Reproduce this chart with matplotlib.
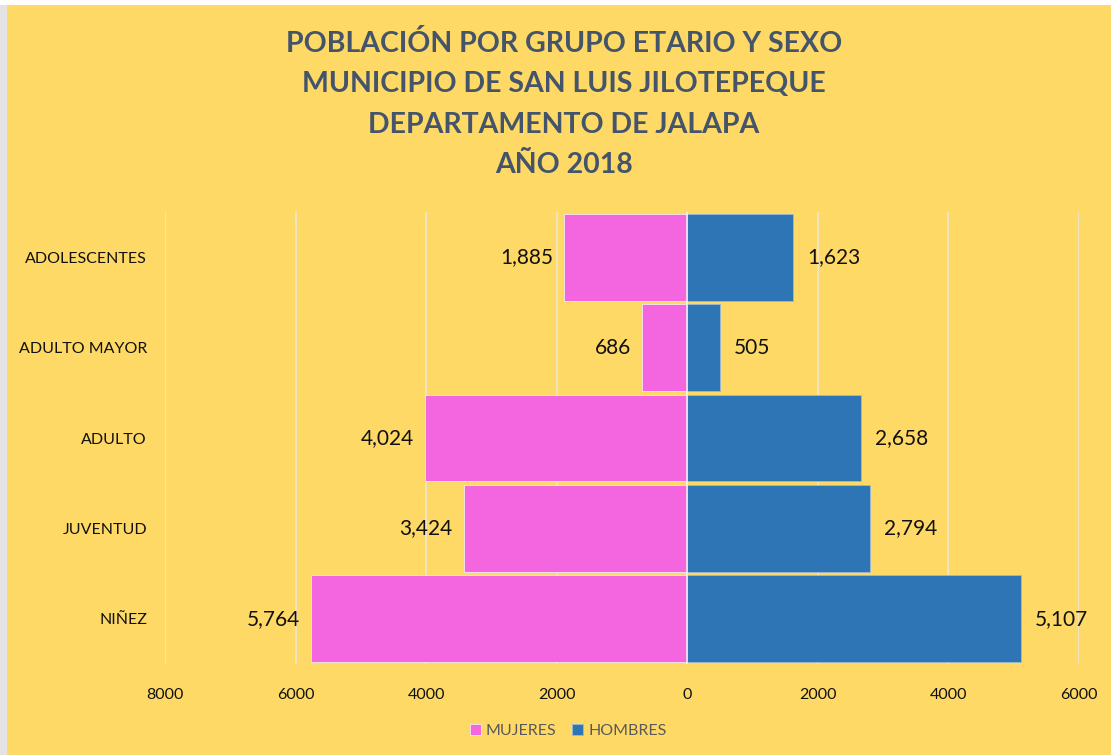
import matplotlib
matplotlib.use("Agg")
import matplotlib.pyplot as plt
from matplotlib.patches import Rectangle

categories = ["ADOLESCENTES", "ADULTO MAYOR", "ADULTO", "JUVENTUD", "NIÑEZ"]
mujeres = [1885, 686, 4024, 3424, 5764]
hombres = [1623, 505, 2658, 2794, 5107]
xticks = [-8000, -6000, -4000, -2000, 0, 2000, 4000, 6000]
xtick_labels = ["8000", "6000", "4000", "2000", "0", "2000", "4000", "6000"]
title_lines = ["POBLACIÓN POR GRUPO ETARIO Y SEXO",
               "MUNICIPIO DE SAN LUIS JILOTEPEQUE",
               "DEPARTAMENTO DE JALAPA",
               "AÑO 2018"]

YELLOW = "#FFD966"
PINK = "#F466E0"
BLUE = "#2E75B6"
TITLE_C = "#44546A"
FONT = ["Lato", "DejaVu Sans"]

W, H = 1111, 755
fig = plt.figure(figsize=(W / 100, H / 100), dpi=100)
fig.patch.set_facecolor("white")

# background panel
fig.patches.append(Rectangle((7 / W, 0), 1 - 7 / W, 1 - 5 / H, transform=fig.transFigure,
                             facecolor=YELLOW, edgecolor="none", zorder=-10))
fig.patches.append(Rectangle((0, 0), 7 / W, 1 - 5 / H, transform=fig.transFigure,
                             facecolor="#E3E3E3", edgecolor="none", zorder=-10))

ax = fig.add_axes([165 / W, (H - 664) / H, 914 / W, 452 / H])
ax.set_facecolor("none")

y = list(range(len(categories)))
neg = [-v for v in mujeres]
bars_m = ax.barh(y, neg, height=0.96, color=PINK, edgecolor="#F0E8F0", linewidth=0.6,
                 label="MUJERES", zorder=3)
bars_h = ax.barh(y, hombres, height=0.96, color=BLUE, edgecolor="#9DB8D8", linewidth=0.6,
                 label="HOMBRES", zorder=3)

for yi, v in zip(y, mujeres):
    ax.annotate(f"{v:,}", (-v, yi), xytext=(-11, 0), textcoords="offset pixels",
                ha="right", va="center", fontsize=15, family=FONT, color="#111111")
for yi, v in zip(y, hombres):
    ax.annotate(f"{v:,}", (v, yi), xytext=(14, 0), textcoords="offset pixels",
                ha="left", va="center", fontsize=15, family=FONT, color="#111111")

ax.set_xlim(-8000, 6000)
ax.set_ylim(len(categories) - 0.5, -0.5)
ax.set_xticks(xticks)
ax.set_xticklabels(xtick_labels, family=FONT, fontsize=11.5, color="#111111")
ax.set_yticks(y)
ax.set_yticklabels(categories, family=FONT, fontsize=11.5, color="#111111")
ax.tick_params(axis="both", length=0)
ax.tick_params(axis="x", pad=17)
ax.tick_params(axis="y", pad=13)
ax.grid(axis="x", color="#ECE8DC", linewidth=1.1, zorder=0)
ax.set_axisbelow(True)
ax.axvline(0, color="#F2F2F2", linewidth=1.1, zorder=4)
for s in ax.spines.values():
    s.set_visible(False)

leg = fig.legend(handles=[bars_m, bars_h], labels=["MUJERES", "HOMBRES"], loc="center",
                 bbox_to_anchor=(568 / W, 1 - 731 / H), ncol=2, frameon=False,
                 prop={"family": FONT, "size": 11.5}, handlelength=0.7, handleheight=0.7,
                 handletextpad=0.3, columnspacing=1.0)
for t in leg.get_texts():
    t.set_color("#595959")

ys = [44, 84, 125, 165]
for line, yy in zip(title_lines, ys):
    fig.text(564 / W, 1 - yy / H, line, ha="center", va="center", fontsize=20.5,
             fontweight="bold", family=FONT, color=TITLE_C)

fig.savefig("out.png", dpi=100, facecolor=fig.get_facecolor())
